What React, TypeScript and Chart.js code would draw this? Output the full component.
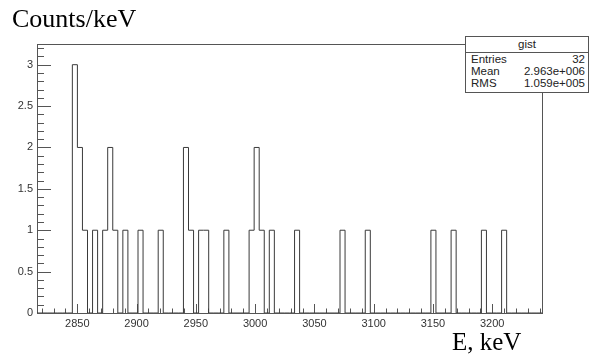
import React, { useEffect, useRef } from "react";
import { Chart, registerables } from "chart.js";

Chart.register(...registerables);

// Histogram definition (ROOT-style fixed binning)
const HIST_MIN = 2816;
const HIST_MAX = 3242;
const N_BINS = 100;

// Non-empty bins (0-based bin index) and their counts
const filledBins = [7, 8, 9, 11, 13, 14, 15, 17, 20, 24, 29, 30, 32, 33, 37, 42, 43, 44, 46, 51, 60, 65, 78, 82, 88, 92];
const binCounts = [3, 2, 1, 1, 1, 2, 1, 1, 1, 1, 2, 1, 1, 1, 1, 1, 2, 1, 1, 1, 1, 1, 1, 1, 1, 1];

// Axis ticks
const xTickStep = 50;
const xMinorStep = 10;
const yMax = 3.25;
const yTickStep = 0.5;
const yMinorStep = 0.1;

// Stats box
const statsTitle = "gist";
const statsNames = ["Entries", "Mean", "RMS"];
const statsValues = ["32", "2.963e+006", "1.059e+005"];

const yTitle = "Counts/keV";
const xTitle = "E, keV";

function buildSteps() {
  const w = (HIST_MAX - HIST_MIN) / N_BINS;
  const counts = new Array(N_BINS).fill(0);
  filledBins.forEach((b, i) => {
    counts[b] = binCounts[i];
  });
  const pts: { x: number; y: number }[] = [];
  for (let k = 0; k < N_BINS; k++) {
    pts.push({ x: HIST_MIN + k * w, y: counts[k] });
  }
  pts.push({ x: HIST_MAX, y: 0 });
  return pts;
}

const framePlugin = {
  id: "rootFrame",
  beforeDatasetsDraw(chart: any) {
    const { ctx, chartArea } = chart;
    const xs = chart.scales.x;
    const ys = chart.scales.y;
    ctx.save();
    ctx.strokeStyle = "#555";
    ctx.lineWidth = 1;
    ctx.strokeRect(
      Math.round(chartArea.left) + 0.5,
      Math.round(chartArea.top) + 0.5,
      Math.round(chartArea.right - chartArea.left),
      Math.round(chartArea.bottom - chartArea.top)
    );
    // y ticks inside
    ctx.beginPath();
    const nY = Math.floor(yMax / yMinorStep + 1e-6);
    for (let i = 0; i <= nY; i++) {
      const v = i * yMinorStep;
      const py = Math.round(ys.getPixelForValue(v)) + 0.5;
      const major = Math.abs(v / yTickStep - Math.round(v / yTickStep)) < 1e-6;
      const len = major ? 14 : 7;
      ctx.moveTo(chartArea.left, py);
      ctx.lineTo(chartArea.left + len, py);
    }
    // x ticks inside
    const start = Math.ceil(HIST_MIN / xMinorStep) * xMinorStep;
    for (let v = start; v <= HIST_MAX; v += xMinorStep) {
      const px = Math.round(xs.getPixelForValue(v)) + 0.5;
      const major = v % xTickStep === 0;
      const len = major ? 9 : 4.5;
      ctx.moveTo(px, chartArea.bottom);
      ctx.lineTo(px, chartArea.bottom - len);
    }
    ctx.stroke();
    ctx.restore();
  },
};

export default function App() {
  const canvasRef = useRef<HTMLCanvasElement | null>(null);

  useEffect(() => {
    if (!canvasRef.current) return;
    const chart = new Chart(canvasRef.current, {
      type: "line",
      data: {
        datasets: [
          {
            data: buildSteps(),
            stepped: "before",
            borderColor: "#3a3a3a",
            borderWidth: 1,
            pointRadius: 0,
            fill: false,
          },
        ],
      },
      options: {
        animation: false,
        responsive: false,
        maintainAspectRatio: false,
        layout: { padding: { left: 0, top: 44, right: 50, bottom: 0 } },
        plugins: {
          legend: { display: false },
          tooltip: { enabled: false },
        },
        scales: {
          x: {
            type: "linear",
            min: HIST_MIN,
            max: HIST_MAX,
            border: { display: false },
            grid: { display: false, drawTicks: false },
            ticks: {
              stepSize: xTickStep,
              includeBounds: false,
              autoSkip: false,
              maxRotation: 0,
              padding: 4,
              color: "#333",
              font: { family: "Liberation Sans", size: 11 },
              callback: (v: any) => String(v),
            },
            afterFit: (s: any) => {
              s.height = 45;
            },
          },
          y: {
            type: "linear",
            min: 0,
            max: yMax,
            border: { display: false },
            grid: { display: false, drawTicks: false },
            ticks: {
              stepSize: yTickStep,
              includeBounds: false,
              padding: 4,
              color: "#333",
              font: { family: "Liberation Sans", size: 11 },
              callback: (v: any) => String(v),
            },
            afterFit: (s: any) => {
              s.width = 37;
            },
          },
        },
      },
      plugins: [framePlugin],
    });
    return () => chart.destroy();
  }, []);

  const serif = "'Liberation Serif', 'Times New Roman', serif";
  const sans = "'Liberation Sans', Arial, sans-serif";

  return (
    <div style={{ position: "absolute", left: 0, top: 0, width: 592, height: 358, background: "#fff" }}>
      <canvas ref={canvasRef} width={592} height={358} style={{ position: "absolute", left: 0, top: 0 }} />
      <div
        style={{
          position: "absolute",
          left: 12,
          top: 6,
          fontFamily: serif,
          fontSize: 26,
          lineHeight: "26px",
          color: "#000",
          whiteSpace: "nowrap",
        }}
      >
        {yTitle}
      </div>
      <div
        style={{
          position: "absolute",
          left: 452,
          top: 329,
          fontFamily: serif,
          fontSize: 25,
          lineHeight: "25px",
          color: "#000",
          whiteSpace: "nowrap",
        }}
      >
        {xTitle}
      </div>
      <div
        style={{
          position: "absolute",
          left: 465,
          top: 36,
          width: 124,
          background: "#fff",
          border: "1px solid #555",
          fontFamily: sans,
          fontSize: 11.5,
          color: "#222",
          boxSizing: "border-box",
        }}
      >
        <div
          style={{
            textAlign: "center",
            height: 15,
            lineHeight: "15px",
            borderBottom: "1px solid #555",
          }}
        >
          {statsTitle}
        </div>
        {statsNames.map((n, i) => (
          <div
            key={n}
            style={{
              display: "flex",
              justifyContent: "space-between",
              height: 12,
              lineHeight: "12px",
              padding: "0 3px 0 5px",
            }}
          >
            <span>{n}</span>
            <span>{statsValues[i]}</span>
          </div>
        ))}
        <div style={{ height: 3 }} />
      </div>
    </div>
  );
}
